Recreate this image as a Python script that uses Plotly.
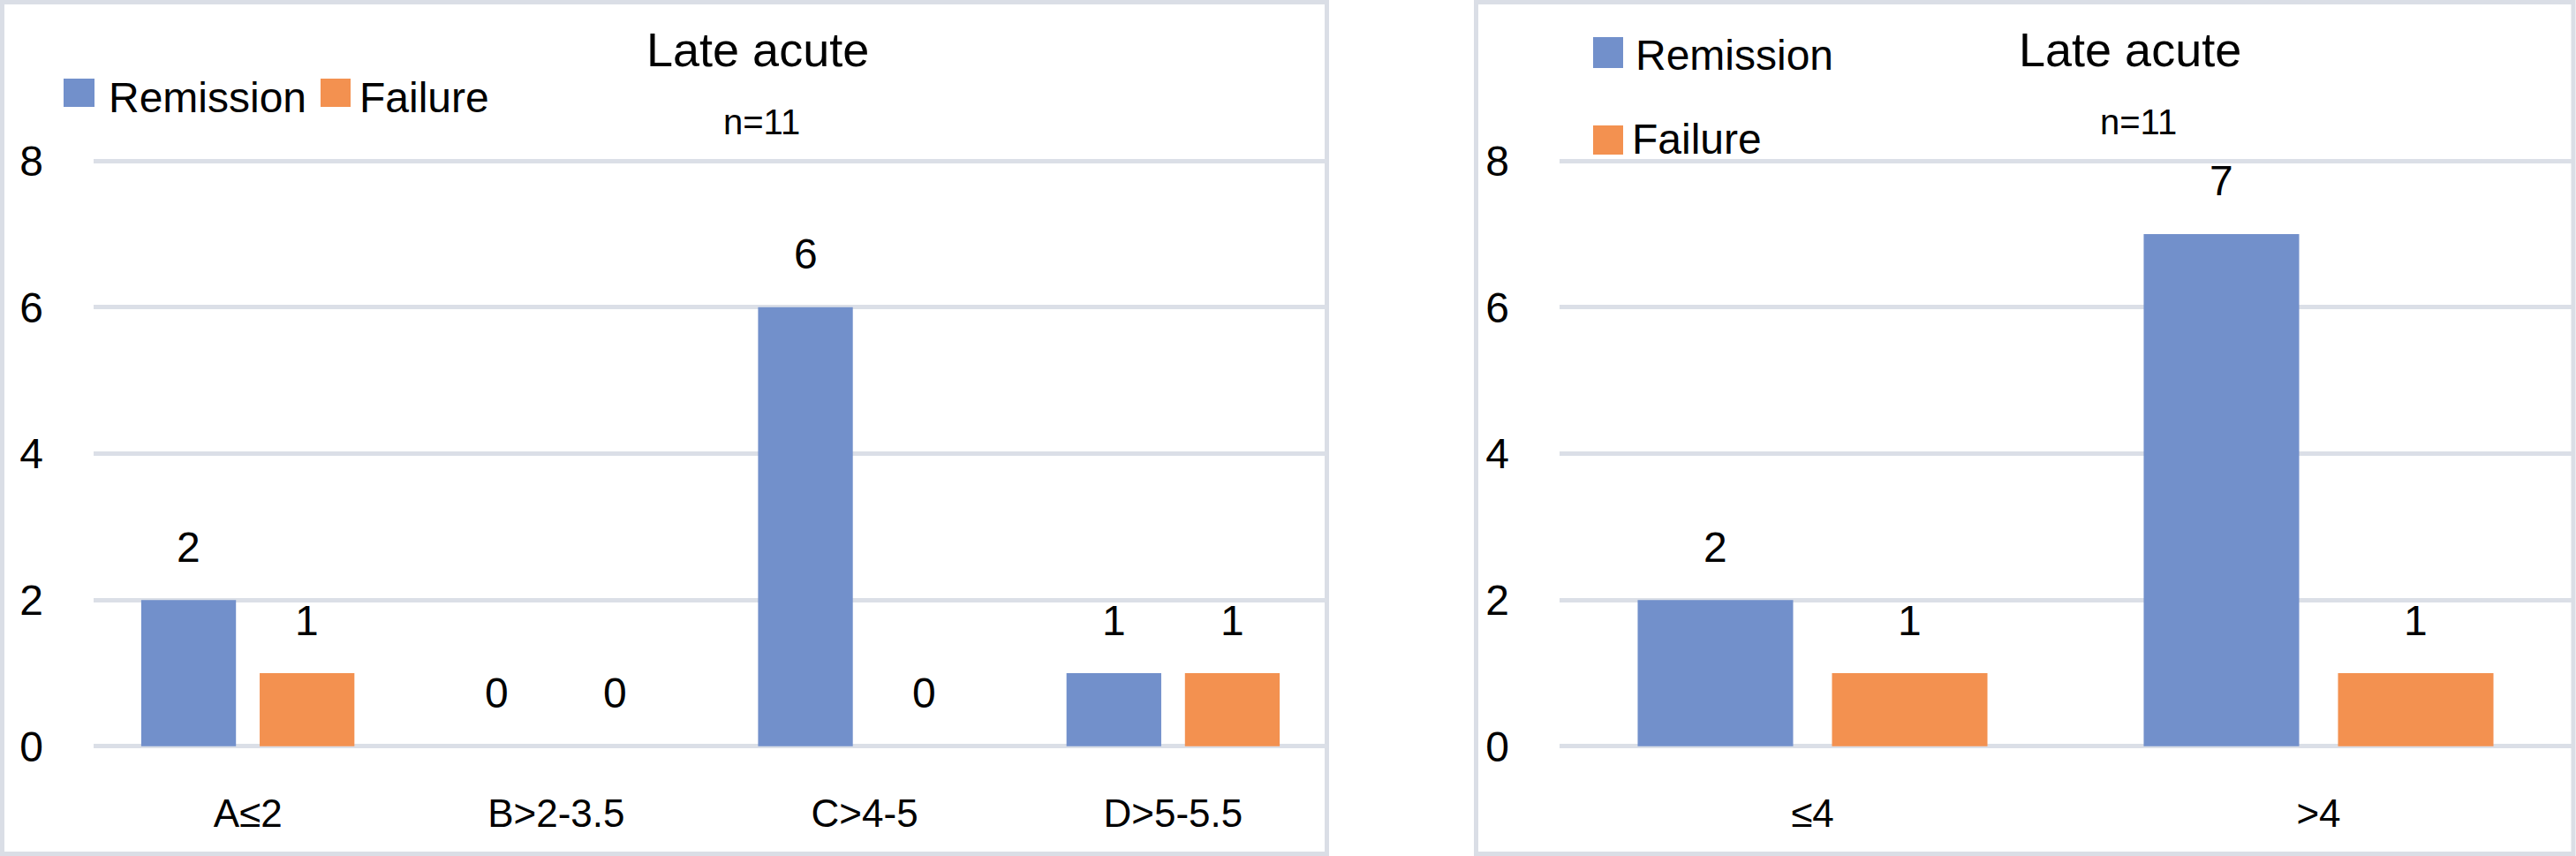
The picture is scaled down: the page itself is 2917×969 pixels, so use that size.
import plotly.graph_objects as go

W, H = 2917, 969

# ---------------- data ----------------
series_names = ["Remission", "Failure"]

cats_left = ["A≤2", "B>2-3.5", "C>4-5", "D>5-5.5"]
remission_left = [2, 0, 6, 1]
failure_left = [1, 0, 0, 1]

cats_right = ["≤4", ">4"]
remission_right = [2, 7]
failure_right = [1, 1]

title_text = "Late acute"
subtitle_text = "n=11"
y_ticks = [0, 2, 4, 6, 8]

# ---------------- style ----------------
BLUE = "#7290cb"
ORANGE = "#f39150"
GRID = "#dbdfe7"
BORDER = "#dadee6"
FONT = "Liberation Sans, Arial, sans-serif"
BARGAP = 0.232
BARGROUPGAP = 0.2


def px(x):
    return x / W


def py(y):
    return 1 - y / H


fig = go.Figure()

panels = [
    dict(cats=cats_left, rem=remission_left, fail=failure_left, xa="x", ya="y"),
    dict(cats=cats_right, rem=remission_right, fail=failure_right, xa="x2", ya="y2"),
]

annotations = []
off = (1 - BARGAP) / 4
for p in panels:
    xs = list(range(len(p["cats"])))
    for j, (name, vals, col) in enumerate(
        [(series_names[0], p["rem"], BLUE), (series_names[1], p["fail"], ORANGE)]
    ):
        fig.add_trace(
            go.Bar(
                x=xs,
                y=vals,
                name=name,
                marker=dict(color=col, line=dict(width=0)),
                xaxis=p["xa"],
                yaxis=p["ya"],
                showlegend=False,
            )
        )
        for i, v in zip(xs, vals):
            annotations.append(
                dict(
                    x=i + (2 * j - 1) * off,
                    y=v,
                    xref=p["xa"],
                    yref=p["ya"],
                    text=str(v),
                    showarrow=False,
                    yshift=60,
                    font=dict(size=48, color="black", family=FONT),
                )
            )

# titles
for cx, ncx in [(858, 862), (2412, 2421)]:
    annotations.append(dict(x=px(cx), y=py(56), xref="paper", yref="paper",
                            text=title_text, showarrow=False, xanchor="center",
                            yanchor="middle", font=dict(size=54, color="black", family=FONT)))
    annotations.append(dict(x=px(ncx), y=py(138), xref="paper", yref="paper",
                            text=subtitle_text, showarrow=False, xanchor="center",
                            yanchor="middle", font=dict(size=40, color="black", family=FONT)))

# manual legends (swatch boxes + labels)
shapes = []
legend_items = [
    # (swatch x0, x1, y0, y1, text x, text y, name, color)
    (72, 107, 89, 121, 121, 111, series_names[0], BLUE),
    (363, 397, 89, 121, 405, 111, series_names[1], ORANGE),
    (1804, 1838, 42, 77, 1850, 62, series_names[0], BLUE),
    (1804, 1838, 142, 175, 1846, 158, series_names[1], ORANGE),
]
for x0, x1, y0, y1, tx, ty, name, col in legend_items:
    shapes.append(dict(type="rect", xref="paper", yref="paper",
                       x0=px(x0), x1=px(x1), y0=py(y1), y1=py(y0),
                       fillcolor=col, line=dict(width=0)))
    annotations.append(dict(x=px(tx), y=py(ty), xref="paper", yref="paper",
                            text=name, showarrow=False, xanchor="left", yanchor="middle",
                            font=dict(size=48, color="black", family=FONT)))

# panel borders
for x0, x1 in [(2.5, 1502.5), (1671.5, 2914)]:
    shapes.append(dict(type="rect", xref="paper", yref="paper",
                       x0=px(x0), x1=px(x1), y0=py(966.5), y1=py(2.5),
                       line=dict(color=BORDER, width=5), fillcolor="rgba(0,0,0,0)",
                       layer="below"))

ydom = [py(849), py(178)]
yaxis_common = dict(
    range=[-0.05, 8.05], tickvals=y_ticks, showgrid=True, gridcolor=GRID, gridwidth=5,
    zeroline=False, showline=False, ticks="", ticklabelstandoff=56, automargin=False,
    tickfont=dict(size=48, color="black", family=FONT), domain=ydom, fixedrange=True,
)
xaxis_common = dict(
    showgrid=False, zeroline=False, showline=False, ticks="", ticklabelstandoff=42,
    automargin=False,
    tickfont=dict(size=44, color="black", family=FONT), fixedrange=True,
)

fig.update_layout(
    template="none",
    width=W, height=H,
    margin=dict(l=0, r=0, t=0, b=0, pad=0, autoexpand=False),
    paper_bgcolor="white", plot_bgcolor="white",
    barmode="group", bargap=BARGAP, bargroupgap=BARGROUPGAP,
    showlegend=False,
    xaxis=dict(domain=[px(106), px(1503)], range=[-0.5, len(cats_left) - 0.5],
               tickvals=list(range(len(cats_left))), ticktext=cats_left, anchor="y",
               **xaxis_common),
    yaxis=dict(anchor="x", **yaxis_common),
    xaxis2=dict(domain=[px(1766), px(2912)], range=[-0.5, len(cats_right) - 0.5],
                tickvals=list(range(len(cats_right))), ticktext=cats_right, anchor="y2",
                **xaxis_common),
    yaxis2=dict(anchor="x2", **yaxis_common),
    annotations=annotations,
    shapes=shapes,
    font=dict(family=FONT, color="black"),
)

fig.write_html(
    "out.html",
    config={"displayModeBar": False, "staticPlot": True},
    post_script="document.body.style.margin='0';document.body.style.overflow='hidden';",
)
